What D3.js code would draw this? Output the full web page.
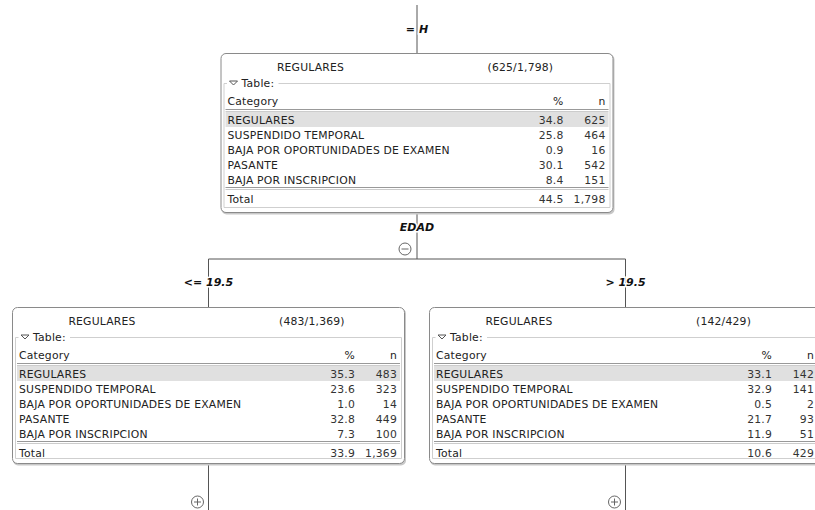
<!DOCTYPE html>
<html>
<head>
<meta charset="utf-8">
<script src="https://cdn.jsdelivr.net/npm/d3@7"></script>
<style>
  body { margin: 0; background: #fff; }
  svg text { font-family: "DejaVu Sans", Verdana, sans-serif; }
  .cell { font-size: 10.8px; letter-spacing: 0.2px; }
</style>
</head>
<body>
<div id="chart"></div>
<script>
// categories of the target
var categories = ["REGULARES", "SUSPENDIDO TEMPORAL", "BAJA POR OPORTUNIDADES DE EXAMEN", "PASANTE", "BAJA POR INSCRIPCION"];

// node values
var nodeMajority = ["REGULARES", "REGULARES", "REGULARES"];
var nodeRatio = ["(625/1,798)", "(483/1,369)", "(142/429)"];
var rootPct = ["34.8", "25.8", "0.9", "30.1", "8.4"];
var rootN = ["625", "464", "16", "542", "151"];
var leftPct = ["35.3", "23.6", "1.0", "32.8", "7.3"];
var leftN = ["483", "323", "14", "449", "100"];
var rightPct = ["33.1", "32.9", "0.5", "21.7", "11.9"];
var rightN = ["142", "141", "2", "93", "51"];
var totalPct = ["44.5", "33.9", "10.6"];
var totalN = ["1,798", "1,369", "429"];

// split labels
var rootLabel = "= H";
var splitAttr = "EDAD";
var edgeLabels = ["<= 19.5", "> 19.5"];

var width = 815, height = 510;
var boxW = 393;

var svg = d3.select("#chart").append("svg")
    .attr("width", width)
    .attr("height", height);

var treeData = {
    name: "root", pct: rootPct, n: rootN,
    children: [
        {name: "left", pct: leftPct, n: leftN, edge: edgeLabels[0]},
        {name: "right", pct: rightPct, n: rightN, edge: edgeLabels[1]}
    ]
};
var root = d3.hierarchy(treeData);
d3.tree().size([834, 254])(root);

var top0 = 53;
var ink = "#222";
var boxStroke = "#8a8a8a";

// row scale inside a box
var rowY = d3.scaleBand()
    .domain(categories)
    .range([59, 134])
    .paddingInner(0);

function label(g, x, y, txt) {
    g.append("text")
        .attr("x", x).attr("y", y)
        .attr("text-anchor", "middle")
        .attr("dominant-baseline", "central")
        .attr("font-size", 11)
        .attr("font-weight", "bold")
        .attr("font-style", "italic")
        .attr("fill", "#111")
        .attr("stroke", "#fff")
        .attr("stroke-width", 3)
        .attr("paint-order", "stroke")
        .text(txt);
}

var links = svg.append("g").attr("stroke", "#555").attr("stroke-width", 1).attr("fill", "none");

// incoming edge of root
links.append("line").attr("x1", root.x).attr("x2", root.x).attr("y1", 5).attr("y2", top0);

// root to children
var barY = 259;
links.append("line").attr("x1", root.x).attr("x2", root.x).attr("y1", top0 + 160).attr("y2", barY);
links.append("line")
    .attr("x1", root.children[0].x).attr("x2", root.children[1].x)
    .attr("y1", barY).attr("y2", barY);
root.children.forEach(function(c) {
    links.append("line").attr("x1", c.x).attr("x2", c.x).attr("y1", barY).attr("y2", top0 + c.y);
    // outgoing edges below children
    links.append("line").attr("x1", c.x).attr("x2", c.x).attr("y1", top0 + c.y + 156).attr("y2", height);
});

var labels = svg.append("g");
label(labels, root.x, 29, rootLabel);
label(labels, root.x, 227, splitAttr);
root.children.forEach(function(c) {
    label(labels, c.x, 282, c.data.edge);
});

// collapse / expand icons
function icon(cx, cy, plus) {
    var g = svg.append("g").attr("stroke", "#666").attr("fill", "#fff").attr("stroke-width", 1);
    g.append("circle").attr("cx", cx).attr("cy", cy).attr("r", 6);
    g.append("line").attr("x1", cx - 3.5).attr("x2", cx + 3.5).attr("y1", cy).attr("y2", cy);
    if (plus) g.append("line").attr("x1", cx).attr("x2", cx).attr("y1", cy - 3.5).attr("y2", cy + 3.5);
}
icon(root.x - 12, 249, false);
root.children.forEach(function(c) { icon(c.x - 11, 502, true); });

function cell(g, x, y, txt, anchor, fill) {
    g.append("text").attr("class", "cell")
        .attr("x", x).attr("y", y)
        .attr("text-anchor", anchor || "start")
        .attr("dominant-baseline", "central")
        .attr("fill", fill || ink)
        .text(txt);
}

// node boxes
root.descendants().forEach(function(d, i) {
    var bx = d.x - boxW / 2, by = top0 + d.y;
    var h = d.depth === 0 ? 160 : 157;
    var g = svg.append("g").attr("transform", "translate(" + bx + "," + by + ")");

    g.append("rect").attr("x", 1).attr("y", 1.5).attr("width", boxW).attr("height", h)
        .attr("rx", 5).attr("fill", "#c8c8c8");
    g.append("rect").attr("x", 0.5).attr("y", 0.5).attr("width", boxW - 1).attr("height", h - 1)
        .attr("rx", 5).attr("fill", "#fff").attr("stroke", boxStroke);

    cell(g, 90, 14, nodeMajority[i], "middle");
    cell(g, 267, 14, nodeRatio[i]);

    // fieldset frame
    var fx0 = 3.5, fx1 = boxW - 3.5, fy0 = 30.5, fy1 = h - 5.5;
    g.append("path")
        .attr("d", "M" + (fx0 + 3) + "," + fy0 + "H" + fx0 + "V" + fy1 + "H" + fx1 + "V" + fy0 + "H" + 58)
        .attr("fill", "none").attr("stroke", "#cfcfcf");
    g.append("path")
        .attr("d", "M9,28L17,28L13,32Z")
        .attr("fill", "#fff").attr("stroke", "#555").attr("stroke-width", 1);
    cell(g, 21, 30, "Table:");

    var colCat = 7, colPct = 343, colN = 385;
    // header
    var hy = 48;
    cell(g, colCat, hy, "Category");
    cell(g, colPct, hy, "%", "end");
    cell(g, colN, hy, "n", "end");
    g.append("line").attr("x1", 5).attr("x2", boxW - 5).attr("y1", 56.5).attr("y2", 56.5).attr("stroke", "#999");
    g.append("line").attr("x1", 5).attr("x2", boxW - 5).attr("y1", 58.5).attr("y2", 58.5).attr("stroke", "#ccc");

    // highlighted majority row
    g.append("rect").attr("x", 5).attr("y", rowY(nodeMajority[i])).attr("width", boxW - 10)
        .attr("height", rowY.bandwidth()).attr("fill", "#e0e0e0");

    categories.forEach(function(cat, k) {
        var y = rowY(cat) + rowY.bandwidth() / 2 + 1;
        cell(g, colCat, y, cat);
        cell(g, colPct, y, d.data.pct[k], "end", "#333");
        cell(g, colN, y, d.data.n[k], "end", "#333");
    });

    var ty = h - 14;
    g.append("line").attr("x1", 5).attr("x2", boxW - 5).attr("y1", 134.5).attr("y2", 134.5).attr("stroke", "#999");
    g.append("line").attr("x1", 5).attr("x2", boxW - 5).attr("y1", 136.5).attr("y2", 136.5).attr("stroke", "#ccc");
    cell(g, colCat, 146, "Total");
    cell(g, colPct, 146, totalPct[i], "end", "#333");
    cell(g, colN, 146, totalN[i], "end", "#333");
});
</script>
</body>
</html>
